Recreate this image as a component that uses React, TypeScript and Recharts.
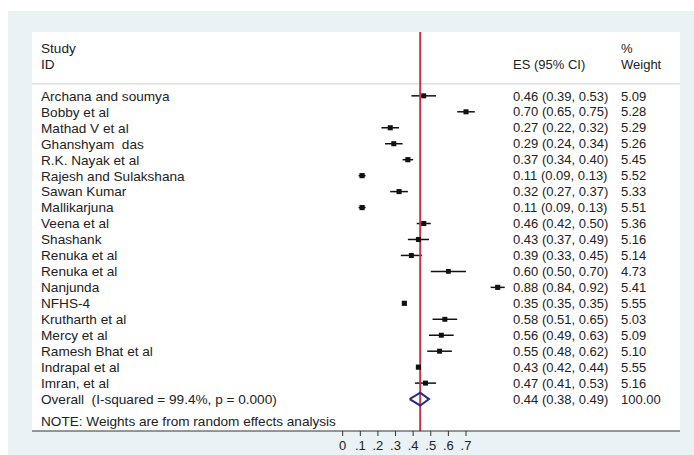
import React from "react";
import {
  ScatterChart, Scatter, XAxis, YAxis, ErrorBar, ReferenceLine,
} from "recharts";

// studies, effect sizes, 95% CI and weights
const studies = [
  "Archana and soumya", "Bobby et al", "Mathad V et al", "Ghanshyam  das",
  "R.K. Nayak et al", "Rajesh and Sulakshana", "Sawan Kumar", "Mallikarjuna",
  "Veena et al", "Shashank", "Renuka et al", "Renuka et al", "Nanjunda",
  "NFHS-4", "Krutharth et al", "Mercy et al", "Ramesh Bhat et al",
  "Indrapal et al", "Imran, et al",
];
const es = [0.46, 0.70, 0.27, 0.29, 0.37, 0.11, 0.32, 0.11, 0.46, 0.43, 0.39, 0.60, 0.88, 0.35, 0.58, 0.56, 0.55, 0.43, 0.47];
const ciLow = [0.39, 0.65, 0.22, 0.24, 0.34, 0.09, 0.27, 0.09, 0.42, 0.37, 0.33, 0.50, 0.84, 0.35, 0.51, 0.49, 0.48, 0.42, 0.41];
const ciHigh = [0.53, 0.75, 0.32, 0.34, 0.40, 0.13, 0.37, 0.13, 0.50, 0.49, 0.45, 0.70, 0.92, 0.35, 0.65, 0.63, 0.62, 0.44, 0.53];
const weights = [5.09, 5.28, 5.29, 5.26, 5.45, 5.52, 5.33, 5.51, 5.36, 5.16, 5.14, 4.73, 5.41, 5.55, 5.03, 5.09, 5.10, 5.55, 5.16];

const overall = { label: "Overall  (I-squared = 99.4%, p = 0.000)", es: 0.44, lo: 0.38, hi: 0.49, weight: 100.0 };
const note = "NOTE: Weights are from random effects analysis";
const xTicks = [0, 0.1, 0.2, 0.3, 0.4, 0.5, 0.6, 0.7];

const overallRow = studies.length;
const noteRow = overallRow + 1.35;

const points = studies.map((name, i) => ({
  x: es[i], y: i, w: weights[i], err: [es[i] - ciLow[i], ciHigh[i] - es[i]],
}));

const diamond = [
  { x: overall.lo, y: overallRow },
  { x: overall.es, y: overallRow - 0.4 },
  { x: overall.hi, y: overallRow },
  { x: overall.es, y: overallRow + 0.4 },
  { x: overall.lo, y: overallRow },
];

const fmtCI = (e: number, l: number, h: number) =>
  `${e.toFixed(2)} (${l.toFixed(2)}, ${h.toFixed(2)})`;

const FONT = "'Liberation Sans', Arial, sans-serif";
const txt = { fontFamily: FONT, fontSize: 13.6, fill: "#222", whiteSpace: "pre" as const };
const num = { ...txt, fontSize: 13 };

const COL_ID = 41;
const COL_ES = 513;
const COL_W = 621;

function RowTick(props: any) {
  const { y, payload } = props;
  const v = payload.value;
  const t = (x: number, s: string, st: any = txt) => (
    <text x={x} y={y} dy="0.36em" style={st}>{s}</text>
  );
  if (v === -3) return <g>{t(COL_ID, "Study")}{t(COL_W, "%", num)}</g>;
  if (v === -2) return <g>{t(COL_ID, "ID")}{t(COL_ES, "ES (95% CI)", num)}{t(COL_W, "Weight", num)}</g>;
  if (v === overallRow)
    return <g>{t(COL_ID, overall.label)}{t(COL_ES, fmtCI(overall.es, overall.lo, overall.hi), num)}{t(COL_W, overall.weight.toFixed(2), num)}</g>;
  if (v === noteRow) return <g>{t(COL_ID, note)}</g>;
  const i = v;
  return (
    <g>
      {t(COL_ID, studies[i])}
      {t(COL_ES, fmtCI(es[i], ciLow[i], ciHigh[i]), num)}
      {t(COL_W, weights[i].toFixed(2), num)}
    </g>
  );
}

const Square = (props: any) => {
  const { cx, cy, payload } = props;
  const s = 2.2 * Math.sqrt(payload.w);
  return <rect x={cx - s / 2} y={cy - s / 2} width={s} height={s} fill="#111" />;
};

const rowTicks = [-3, -2, ...studies.map((_, i) => i), overallRow, noteRow];

export default function App() {
  return (
    <div style={{ position: "fixed", left: 0, top: 0, width: 694, height: 455, background: "#fff", overflow: "hidden" }}>
      <div style={{ position: "absolute", left: 8, top: 11, right: 0, bottom: 0, background: "#eaf2f6" }} />
      <div style={{ position: "absolute", left: 32, top: 32, width: 648, height: 399, background: "#fff" }} />
      <div style={{ position: "absolute", left: 0, top: 0 }}>
        <ScatterChart width={694} height={455} margin={{ top: 32, right: 14, bottom: 0, left: 0 }}>
          <XAxis
            type="number"
            dataKey="x"
            domain={[-1.764, 1.915]}
            ticks={xTicks}
            allowDataOverflow
            height={24}
            tickSize={5}
            tickMargin={5}
            stroke="#333"
            tick={{ fill: "#222", fontSize: 13, fontFamily: FONT }}
            tickFormatter={(v: number) => (v === 0 ? "0" : v.toFixed(1).replace("0.", "."))}
          />
          <YAxis
            type="number"
            dataKey="y"
            domain={[-4, 21]}
            reversed
            allowDataOverflow
            width={32}
            ticks={rowTicks}
            interval={0}
            axisLine={false}
            tickLine={false}
            tick={<RowTick />}
          />
          <ReferenceLine y={-0.75} stroke="#cfcfcf" strokeWidth={1} />
          <Scatter data={points} shape={<Square />} isAnimationActive={false}>
            <ErrorBar dataKey="err" direction="x" width={0} stroke="#111" strokeWidth={1.5} isAnimationActive={false} />
          </Scatter>
          <Scatter
            data={diamond}
            line={{ stroke: "#2b2b86", strokeWidth: 2 }}
            shape={() => <g />}
            isAnimationActive={false}
          />
          <ReferenceLine x={overall.es} stroke="#c8334a" strokeWidth={2} />
        </ScatterChart>
      </div>
    </div>
  );
}
